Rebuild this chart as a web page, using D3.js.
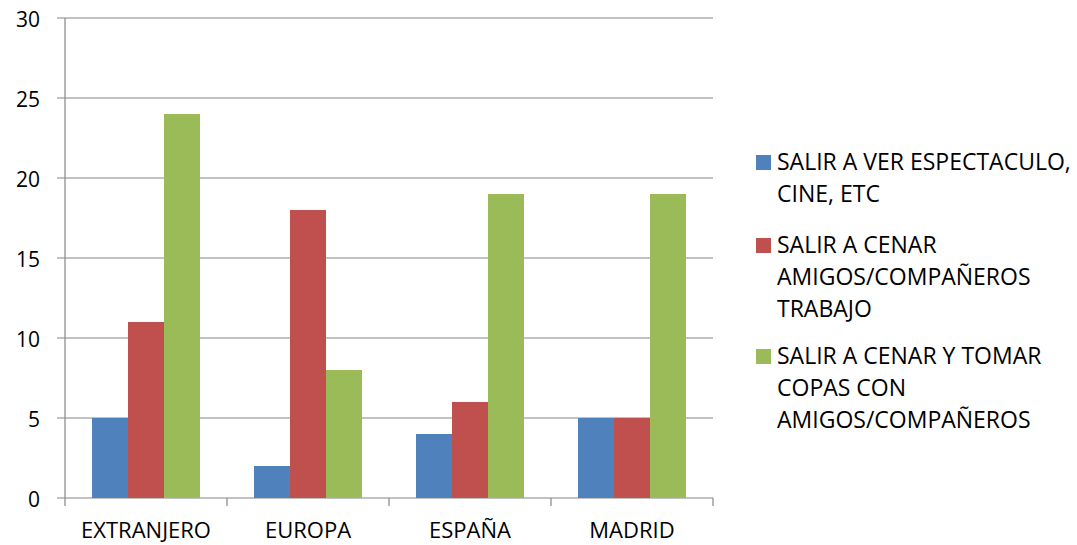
<html>
<head>
  <meta charset="utf-8">
  <title>Chart</title>
  <script src="https://d3js.org/d3.v7.min.js"></script>
  <style>
    body { margin: 0; background: #fff; }
    text { font-family: "Open Sans", "Liberation Sans", sans-serif; fill: #000; }
  </style>
</head>
<body>
<svg id="chart" width="1077" height="545"></svg>
<script>
  // data
  var categories = ["EXTRANJERO", "EUROPA", "ESPAÑA", "MADRID"]
  var seriesNames = [
    ["SALIR A VER ESPECTACULO,", "CINE, ETC"],
    ["SALIR A CENAR", "AMIGOS/COMPAÑEROS", "TRABAJO"],
    ["SALIR A CENAR Y TOMAR", "COPAS CON", "AMIGOS/COMPAÑEROS"]
  ]
  var espectaculo = [5, 2, 4, 5]
  var cenarTrabajo = [11, 18, 6, 5]
  var cenarCopas = [24, 8, 19, 19]
  var yTicks = [0, 5, 10, 15, 20, 25, 30]
  var colors = ["#4F81BD", "#C0504D", "#9BBB59"]

  var series = [espectaculo, cenarTrabajo, cenarCopas]
  var svg = d3.select('#chart')
  var plotL = 65, plotR = 713, plotT = 18, plotB = 498

  var x = d3.scaleBand().domain(categories).range([plotL, plotR])
  var xInner = d3.scaleBand().domain([0, 1, 2])
    .range([0, x.bandwidth()]).paddingOuter(0.75).paddingInner(0)
  var y = d3.scaleLinear().domain([0, 30]).range([plotB, plotT])

  // gridlines
  svg.append('g').selectAll('line')
      .data(yTicks)
      .enter()
    .append('line')
      .attr('x1', plotL - 8)
      .attr('x2', plotR)
      .attr('y1', function (d) { return y(d) })
      .attr('y2', function (d) { return y(d) })
      .attr('stroke', '#868686')
      .attr('stroke-width', 1.2)

  // bars
  series.forEach(function (vals, s) {
    svg.append('g').selectAll('rect')
        .data(vals)
        .enter()
      .append('rect')
        .attr('x', function (d, i) { return x(categories[i]) + xInner(s) })
        .attr('width', xInner.bandwidth())
        .attr('y', function (d) { return y(d) })
        .attr('height', function (d) { return plotB - y(d) })
        .attr('fill', colors[s])
  })

  // y axis line
  svg.append('line')
      .attr('x1', plotL).attr('x2', plotL)
      .attr('y1', plotT).attr('y2', plotB)
      .attr('stroke', '#868686').attr('stroke-width', 1.2)

  // x axis ticks
  var xTickPos = categories.map(function (c) { return x(c) }).concat([plotR])
  svg.append('g').selectAll('line')
      .data(xTickPos)
      .enter()
    .append('line')
      .attr('x1', function (d) { return d }).attr('x2', function (d) { return d })
      .attr('y1', plotB).attr('y2', plotB + 8)
      .attr('stroke', '#868686').attr('stroke-width', 1.2)

  // y labels
  svg.append('g').selectAll('text')
      .data(yTicks)
      .enter()
    .append('text')
      .attr('x', 40)
      .attr('y', function (d) { return y(d) + 2 })
      .attr('dy', '0.35em')
      .attr('text-anchor', 'end')
      .style('font-size', '21px')
      .text(function (d) { return d })

  // x labels
  svg.append('g').selectAll('text')
      .data(categories)
      .enter()
    .append('text')
      .attr('x', function (d) { return x(d) + x.bandwidth() / 2 })
      .attr('y', 530)
      .attr('dy', '0.35em')
      .attr('text-anchor', 'middle')
      .style('font-size', '22px')
      .text(function (d) { return d })

  // legend
  var legendY = [162, 245, 356]
  seriesNames.forEach(function (lines, s) {
    var g = svg.append('g')
    g.append('rect')
      .attr('x', 756).attr('y', legendY[s] - 7)
      .attr('width', 15).attr('height', 15)
      .attr('fill', colors[s])
    lines.forEach(function (t, k) {
      g.append('text')
        .attr('x', 777)
        .attr('y', legendY[s] + k * 32)
        .attr('dy', '0.35em')
        .style('font-size', '23px')
        .text(t)
    })
  })
</script>
</body>
</html>
